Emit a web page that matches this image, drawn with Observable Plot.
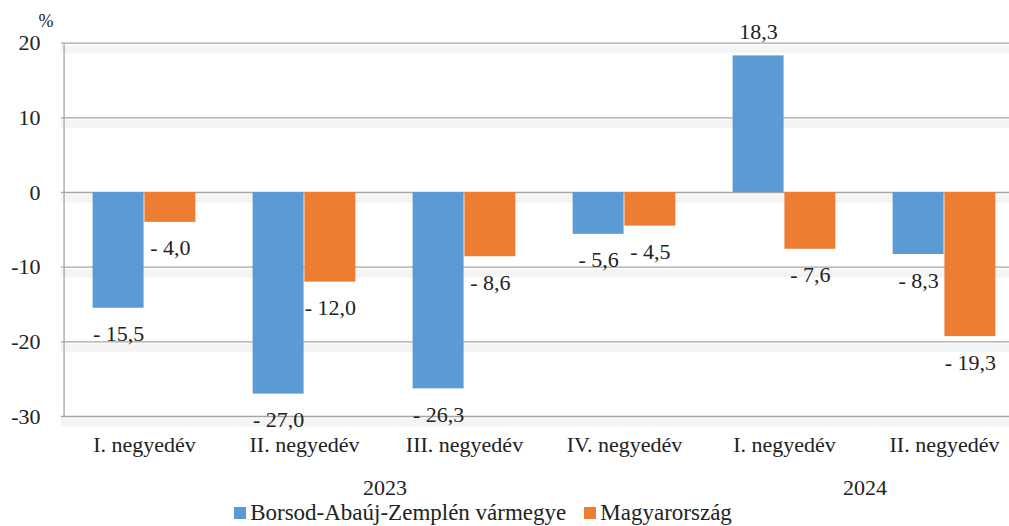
<!DOCTYPE html>
<html>
<head>
<meta charset="utf-8">
<script src="https://cdn.jsdelivr.net/npm/d3@7"></script>
<script src="https://cdn.jsdelivr.net/npm/@observablehq/plot@0.6"></script>
<style>
  body { margin: 0; background: #fff; font-family: "Liberation Serif", "DejaVu Serif", serif; }
  #chart svg { display: block; overflow: hidden; }
  .legend { display: flex; justify-content: center; align-items: center; height: 26px; font-family: "Liberation Serif", "DejaVu Serif", serif; font-size: 23px; color: #222; padding-right: 43px; }
  .legend .sw { display: inline-block; width: 12px; height: 12px; margin-right: 4px; }
  .legend .item { display: flex; align-items: center; margin: 0 9px; }
</style>
</head>
<body>
<div id="chart"></div>
<div class="legend" id="legend"></div>
<script>
const quarters = ["I. negyedév", "II. negyedév", "III. negyedév", "IV. negyedév", "I. negyedév", "II. negyedév"];
const years = ["2023", "2023", "2023", "2023", "2024", "2024"];
const borsod = [-15.5, -27.0, -26.3, -5.6, 18.3, -8.3];
const magyar = [-4.0, -12.0, -8.6, -4.5, -7.6, -19.3];
const seriesNames = ["Borsod-Abaúj-Zemplén vármegye", "Magyarország"];
const seriesColors = ["#5b9bd5", "#ed7d31"];
const yTicks = [20, 10, 0, -10, -20, -30];
const yearLabels = ["2023", "2024"];

const rows = quarters.map((q, i) => ({key: years[i] + " " + q, quarter: q, year: years[i], borsod: borsod[i], magyar: magyar[i]}));
const keys = rows.map(d => d.key);
const fmt = v => (v < 0 ? "- " + (-v).toFixed(1) : v.toFixed(1)).replace(".", ",");

const yearAnchors = yearLabels.map(y => {
  const idx = years.map((v, i) => v === y ? i : -1).filter(i => i >= 0);
  return {year: y, key: keys[idx[Math.floor(idx.length / 2) - 1]]};
});

const W = 1009, H = 500;
const mL = 61, mR = -17, mT = 42.7, mB = 84;
const band = (W - mL - mR) / keys.length;
const half = band / 2;
const outer = 28.6;
const shift = (half - outer) / 2;

const font = "'Liberation Serif', 'DejaVu Serif', serif";
const fs = 22;

const marks = [
  Plot.ruleY(yTicks, {stroke: "#f4f4f4", strokeWidth: 8, dy: 6}),
  Plot.ruleY(yTicks, {stroke: "#a6a6a6", strokeWidth: 1.3}),
  Plot.ruleX([keys[0]], {y1: -30, y2: 20, dx: -half, stroke: "#a6a6a6", strokeWidth: 1.3}),
  Plot.barY(rows, {x: "key", y: "borsod", fill: seriesColors[0], insetLeft: outer, insetRight: half}),
  Plot.barY(rows, {x: "key", y: "magyar", fill: seriesColors[1], insetLeft: half, insetRight: outer}),
];
[["borsod", -shift], ["magyar", shift]].forEach(([f, dx]) => {
  marks.push(Plot.text(rows, {filter: d => d[f] < 0, x: "key", y: f, text: d => fmt(d[f]), dx, dy: 26, fontSize: fs, fontFamily: font, fill: "#222"}));
  marks.push(Plot.text(rows, {filter: d => d[f] >= 0, x: "key", y: f, text: d => fmt(d[f]), dx, dy: -24, fontSize: fs, fontFamily: font, fill: "#222"}));
});
marks.push(
  Plot.axisY(yTicks, {tickSize: 0, tickPadding: 21, fontSize: fs, fontFamily: font, fill: "#222", tickFormat: d => String(d), label: null}),
  Plot.axisX({tickSize: 0, tickPadding: 20, fontSize: fs, fontFamily: font, fill: "#222", tickFormat: k => rows.find(r => r.key === k).quarter, label: null}),
  Plot.text(yearAnchors, {x: "key", text: "year", frameAnchor: "bottom", dx: half, dy: 78, fontSize: fs, fontFamily: font, fill: "#222"}),
  Plot.text(["%"], {frameAnchor: "top-left", lineAnchor: "middle", dx: -23, dy: -22, fontSize: 18, fontFamily: font, fill: "#222"})
);

const chart = Plot.plot({
  width: W, height: H,
  marginLeft: mL, marginRight: mR, marginTop: mT, marginBottom: mB,
  style: {fontFamily: font, background: "#fff"},
  x: {type: "band", domain: keys, padding: 0, axis: null},
  y: {domain: [-30, 20], axis: null},
  marks
});
document.getElementById("chart").appendChild(chart);

const leg = document.getElementById("legend");
seriesNames.forEach((n, i) => {
  const item = document.createElement("span");
  item.className = "item";
  const sw = document.createElement("span");
  sw.className = "sw";
  sw.style.background = seriesColors[i];
  item.appendChild(sw);
  item.appendChild(document.createTextNode(n));
  leg.appendChild(item);
});
</script>
</body>
</html>
